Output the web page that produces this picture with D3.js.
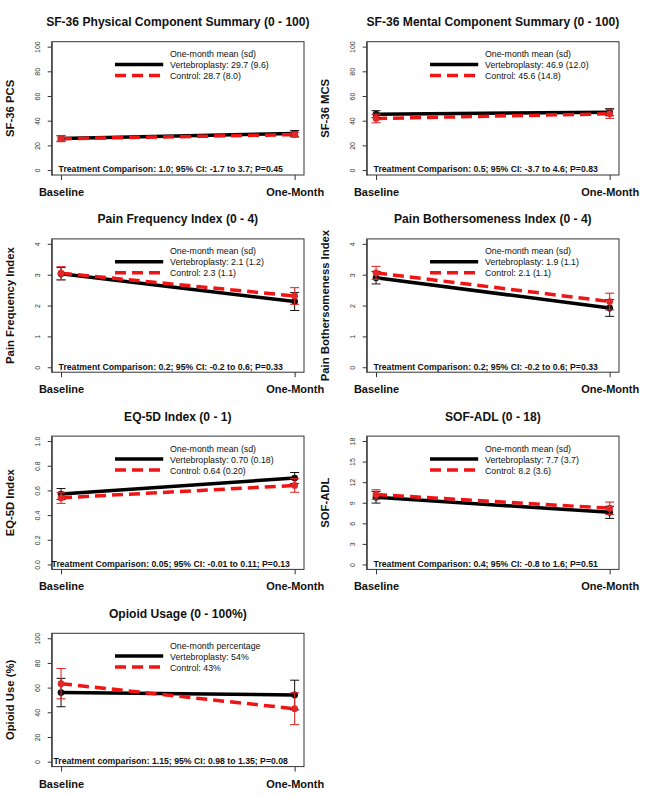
<!DOCTYPE html>
<html>
<head>
<meta charset="utf-8">
<script src="https://cdn.jsdelivr.net/npm/d3@7"></script>
<style>
  html, body { margin: 0; padding: 0; background: #ffffff; }
  svg { display: block; font-family: "Liberation Sans", Arial, Helvetica, sans-serif; }
</style>
</head>
<body>
<svg id="chart" width="649" height="797"></svg>
<script>
// ---------------- data ----------------
const timepoints = ["Baseline", "One-Month"];
const titles = [
  "SF-36 Physical Component Summary (0 - 100)",
  "SF-36 Mental Component Summary (0 - 100)",
  "Pain Frequency Index (0 - 4)",
  "Pain Bothersomeness Index (0 - 4)",
  "EQ-5D Index (0 - 1)",
  "SOF-ADL (0 - 18)",
  "Opioid Usage (0 - 100%)"
];
const yLabels = ["SF-36 PCS", "SF-36 MCS", "Pain Frequency Index", "Pain Bothersomeness Index",
                 "EQ-5D Index", "SOF-ADL", "Opioid Use (%)"];
const yMax = [100, 100, 4, 4, 1, 18, 100];
const yTicks = [
  [0, 20, 40, 60, 80, 100],
  [0, 20, 40, 60, 80, 100],
  [0, 1, 2, 3, 4],
  [0, 1, 2, 3, 4],
  [0, 0.2, 0.4, 0.6, 0.8, 1.0],
  [0, 3, 6, 9, 12, 15, 18],
  [0, 20, 40, 60, 80, 100]
];
const yTickFormat = ["d", "d", "d", "d", ".1f", "d", "d"];

// means at Baseline / One-Month
const vertMean = [[25.6, 29.7], [45.3, 46.9], [3.03, 2.13], [2.90, 1.92], [0.57, 0.70], [9.8, 7.6], [56, 54]];
const ctrlMean = [[25.4, 28.7], [41.8, 45.6], [3.05, 2.31], [3.06, 2.13], [0.54, 0.64], [10.2, 8.2], [63.2, 42.9]];
// error bar half-widths
const vertErr = [[2.2, 2.3], [2.8, 2.9], [0.20, 0.29], [0.20, 0.27], [0.045, 0.045], [0.85, 0.88], [11.5, 12.0]];
const ctrlErr = [[2.4, 2.0], [3.5, 3.7], [0.21, 0.27], [0.21, 0.27], [0.045, 0.055], [0.70, 0.90], [12.3, 12.9]];

const legendHeader = ["One-month mean (sd)", "One-month mean (sd)", "One-month mean (sd)", "One-month mean (sd)",
                      "One-month mean (sd)", "One-month mean (sd)", "One-month percentage"];
const vertLegend = ["Vertebroplasty: 29.7 (9.6)", "Vertebroplasty: 46.9 (12.0)", "Vertebroplasty: 2.1 (1.2)",
                    "Vertebroplasty: 1.9 (1.1)", "Vertebroplasty: 0.70 (0.18)", "Vertebroplasty: 7.7 (3.7)",
                    "Vertebroplasty: 54%"];
const ctrlLegend = ["Control: 28.7 (8.0)", "Control: 45.6 (14.8)", "Control: 2.3 (1.1)", "Control: 2.1 (1.1)",
                    "Control: 0.64 (0.20)", "Control: 8.2 (3.6)", "Control: 43%"];
const comparisons = [
  "Treatment Comparison: 1.0; 95% CI: -1.7 to 3.7; P=0.45",
  "Treatment Comparison: 0.5; 95% CI: -3.7 to 4.6; P=0.83",
  "Treatment Comparison: 0.2; 95% CI: -0.2 to 0.6; P=0.33",
  "Treatment Comparison: 0.2; 95% CI: -0.2 to 0.6; P=0.33",
  "Treatment Comparison: 0.05; 95% CI: -0.01 to 0.11; P=0.13",
  "Treatment Comparison: 0.4; 95% CI: -0.8 to 1.6; P=0.51",
  "Treatment comparison: 1.15; 95% CI: 0.98 to 1.35; P=0.08"
];

// ---------------- layout ----------------
const colX = [51.7, 366.7];
const rowTop0 = 41.7, rowPitch = 197.2;
const boxW = 252.3, boxH = 133.3;
const RED = "#f01414";

const svg = d3.select("#chart");

titles.forEach((title, i) => {
  const col = i % 2, row = Math.floor(i / 2);
  const x0 = colX[col], y0 = rowTop0 + row * rowPitch;
  const g = svg.append("g").attr("transform", `translate(${x0},${y0})`);

  const x = d3.scalePoint().domain(timepoints).range([0, boxW]).padding(0.04);
  const m = yMax[i];
  const y = d3.scaleLinear().domain([-0.04 * m, 1.04 * m]).range([boxH, 0]);

  // title
  g.append("text").attr("x", boxW / 2).attr("y", -15.5)
    .attr("text-anchor", "middle").attr("font-weight", "bold").attr("font-size", 12.1)
    .attr("fill", "#111").text(title);

  // y label
  g.append("text")
    .attr("transform", `translate(${-37.5},${boxH / 2}) rotate(-90)`)
    .attr("text-anchor", "middle").attr("font-weight", "bold").attr("font-size", 11.3)
    .attr("fill", "#111").text(yLabels[i]);

  // y axis
  const ya = g.append("g").call(
    d3.axisLeft(y).tickValues(yTicks[i]).tickFormat(d3.format(yTickFormat[i])).tickSize(4).tickSizeOuter(0)
  );
  ya.select(".domain").attr("stroke", "#333");
  ya.selectAll(".tick line").attr("stroke", "#333");
  ya.selectAll(".tick text")
    .attr("x", null).attr("dy", null)
    .attr("text-anchor", "middle")
    .attr("transform", "translate(-11.5,0) rotate(-90)")
    .attr("font-size", 7).attr("fill", "#333")
    .style("font-family", "Liberation Sans, Arial, sans-serif");

  // x axis
  const xa = g.append("g").attr("transform", `translate(0,${boxH})`).call(
    d3.axisBottom(x).tickSize(5).tickSizeOuter(0)
  );
  xa.select(".domain").remove();
  xa.selectAll(".tick line").attr("stroke", "#333");
  xa.selectAll(".tick text")
    .attr("y", 21).attr("dy", null)
    .attr("font-size", 11).attr("font-weight", "bold").attr("fill", "#111")
    .style("font-family", "Liberation Sans, Arial, sans-serif");

  // box
  g.append("rect").attr("x", 0).attr("y", 0).attr("width", boxW).attr("height", boxH)
    .attr("fill", "none").attr("stroke", "#333").attr("stroke-width", 1);

  const line = d3.line().x((d, k) => x(timepoints[k])).y(d => y(d));

  // mean lines
  g.append("path").datum(vertMean[i]).attr("d", line)
    .attr("fill", "none").attr("stroke", "#000").attr("stroke-width", 3.5);
  g.append("path").datum(ctrlMean[i]).attr("d", line)
    .attr("fill", "none").attr("stroke", RED).attr("stroke-width", 3.5)
    .attr("stroke-dasharray", "11,6");

  // error bars + points
  const drawGroup = (means, errs, color, ew) => {
    means.forEach((v, k) => {
      const cx = x(timepoints[k]);
      const lo = y(v - errs[k]), hi = y(v + errs[k]);
      const eg = g.append("g").attr("stroke", color).attr("stroke-width", ew);
      eg.append("line").attr("x1", cx).attr("x2", cx).attr("y1", lo).attr("y2", hi);
      eg.append("line").attr("x1", cx - 4.5).attr("x2", cx + 4.5).attr("y1", lo).attr("y2", lo);
      eg.append("line").attr("x1", cx - 4.5).attr("x2", cx + 4.5).attr("y1", hi).attr("y2", hi);
    });
    g.selectAll(null).data(means).enter().append("circle")
      .attr("cx", (d, k) => x(timepoints[k])).attr("cy", d => y(d))
      .attr("r", 3.4).attr("fill", color);
  };
  drawGroup(vertMean[i], vertErr[i], "#111", 1);
  drawGroup(ctrlMean[i], ctrlErr[i], "#e02828", 1.1);

  // legend
  const lg = g.append("g");
  lg.append("text").attr("x", 118.3).attr("y", 15.6).attr("font-size", 8.8).attr("fill", "#111")
    .text(legendHeader[i]);
  lg.append("line").attr("x1", 63.3).attr("x2", 111.5).attr("y1", 22.8).attr("y2", 22.8)
    .attr("stroke", "#000").attr("stroke-width", 3.5);
  lg.append("text").attr("x", 118.3).attr("y", 26.6).attr("font-size", 8.8).attr("fill", "#111")
    .text(vertLegend[i]);
  lg.append("line").attr("x1", 63.3).attr("x2", 111.5).attr("y1", 33.8).attr("y2", 33.8)
    .attr("stroke", RED).attr("stroke-width", 3.5).attr("stroke-dasharray", "11,6");
  lg.append("text").attr("x", 118.3).attr("y", 37.6).attr("font-size", 8.8).attr("fill", "#111")
    .text(ctrlLegend[i]);

  // treatment comparison
  g.append("text").attr("x", 119).attr("y", boxH - 2.5)
    .attr("text-anchor", "middle").attr("font-weight", "bold").attr("font-size", 8.7)
    .attr("fill", "#111").text(comparisons[i]);
});
</script>
</body>
</html>
